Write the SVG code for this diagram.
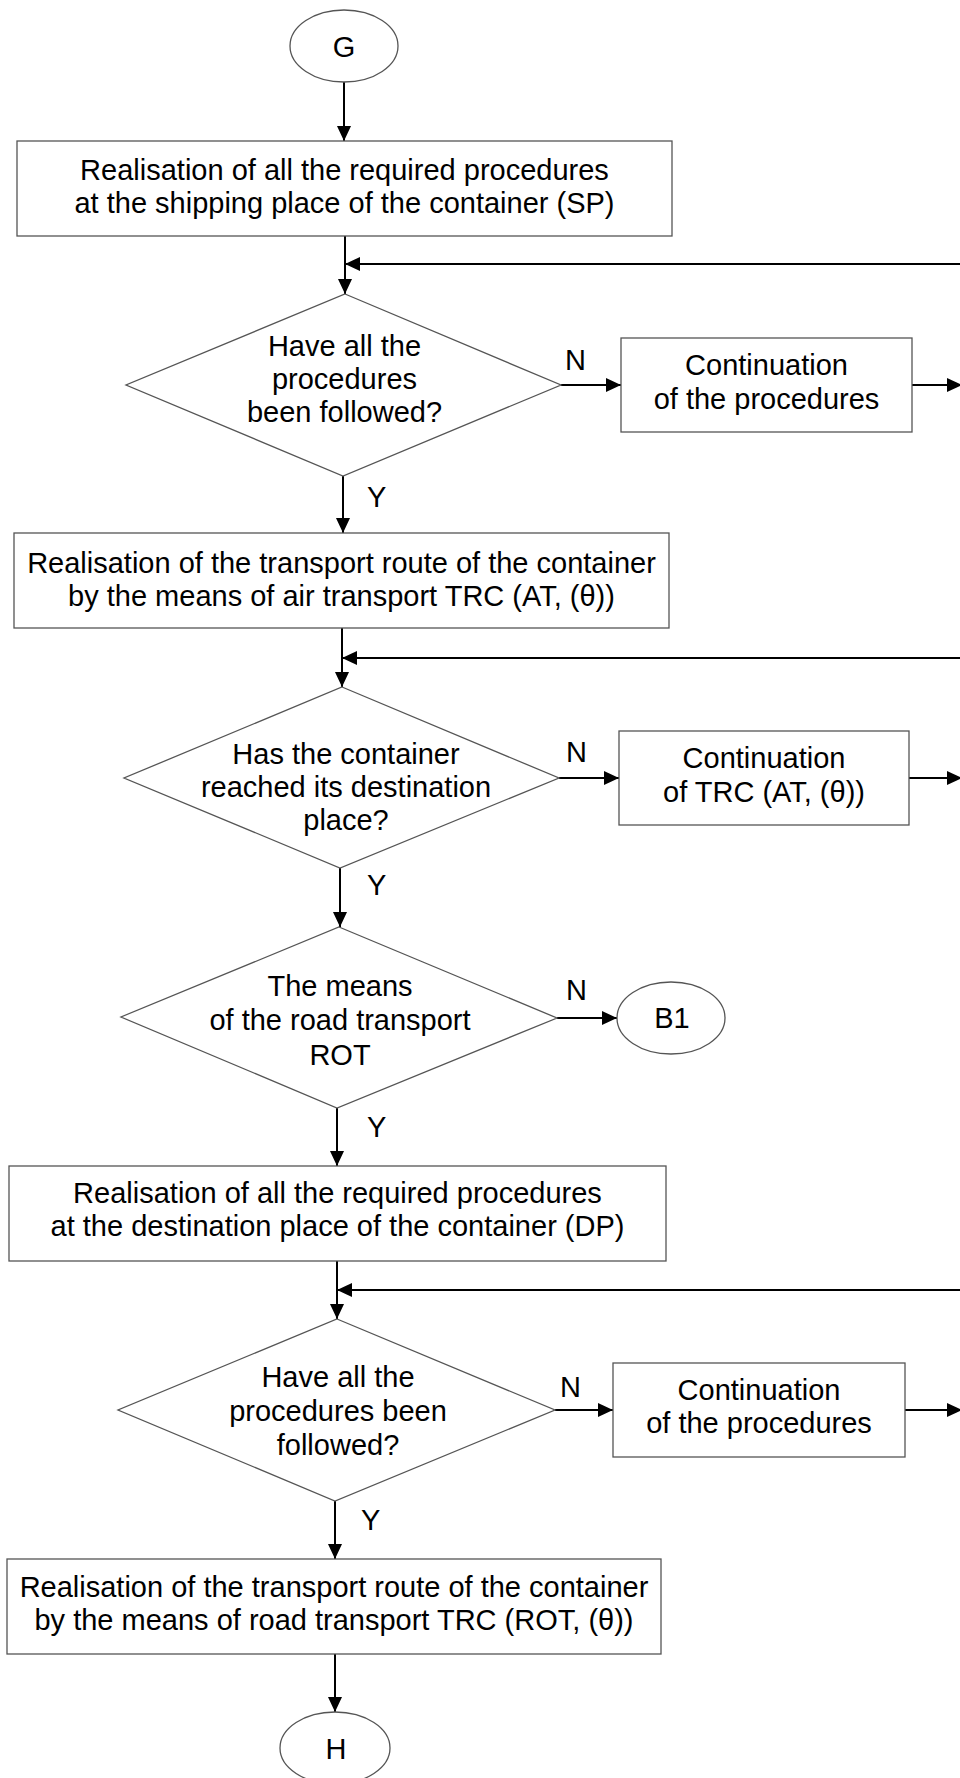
<svg xmlns="http://www.w3.org/2000/svg" width="960" height="1778" viewBox="0 0 960 1778">
<style>
  .shape { fill: #ffffff; stroke: #555555; stroke-width: 1.3; }
  .conn { fill: none; stroke: #000000; stroke-width: 2; }
  text { font-family: "Liberation Sans", Arial, sans-serif; font-size: 29px; fill: #000000; }
  .c { text-anchor: middle; }
  .lbl { text-anchor: start; }
</style>
<defs>
  <marker id="arr" markerUnits="userSpaceOnUse" markerWidth="16" markerHeight="14" refX="15" refY="7" orient="auto">
    <path d="M0,0 L15,7 L0,14 Z" fill="#000000"/>
  </marker>
</defs>
<rect x="0" y="0" width="960" height="1778" fill="#ffffff"/>

<g id="connectors">
  <path class="conn" d="M344,82 V141" marker-end="url(#arr)"/>
  <path class="conn" d="M345,236 V294" marker-end="url(#arr)"/>
  <path class="conn" d="M962,264 H345" marker-end="url(#arr)"/>
  <path class="conn" d="M561,385 H621" marker-end="url(#arr)"/>
  <path class="conn" d="M912,385 H962" marker-end="url(#arr)"/>
  <path class="conn" d="M343,476 V533" marker-end="url(#arr)"/>
  <path class="conn" d="M342,628 V687" marker-end="url(#arr)"/>
  <path class="conn" d="M962,658 H342" marker-end="url(#arr)"/>
  <path class="conn" d="M559,778 H619" marker-end="url(#arr)"/>
  <path class="conn" d="M909,778 H962" marker-end="url(#arr)"/>
  <path class="conn" d="M340,868 V927" marker-end="url(#arr)"/>
  <path class="conn" d="M557,1018 H617" marker-end="url(#arr)"/>
  <path class="conn" d="M337,1108 V1166" marker-end="url(#arr)"/>
  <path class="conn" d="M337,1261 V1319" marker-end="url(#arr)"/>
  <path class="conn" d="M962,1290 H337" marker-end="url(#arr)"/>
  <path class="conn" d="M555,1410 H613" marker-end="url(#arr)"/>
  <path class="conn" d="M905,1410 H962" marker-end="url(#arr)"/>
  <path class="conn" d="M335,1501 V1559" marker-end="url(#arr)"/>
  <path class="conn" d="M335,1654 V1712" marker-end="url(#arr)"/>
  <text class="lbl" x="565" y="370">N</text>
  <text class="lbl" x="367" y="507">Y</text>
  <text class="lbl" x="566" y="762">N</text>
  <text class="lbl" x="367" y="895">Y</text>
  <text class="lbl" x="566" y="1000">N</text>
  <text class="lbl" x="367" y="1137">Y</text>
  <text class="lbl" x="560" y="1397">N</text>
  <text class="lbl" x="361" y="1530">Y</text>
</g>

<g id="G">
  <ellipse class="shape" cx="344" cy="46" rx="54" ry="36"/>
  <text class="c" x="344" y="57">G</text>
</g>

<g id="box1">
  <rect class="shape" x="17" y="141" width="655" height="95"/>
  <text class="c" x="344.5" y="180">Realisation of all the required procedures</text>
  <text class="c" x="344.5" y="213">at the shipping place of the container (SP)</text>
</g>

<g id="d1">
  <polygon class="shape" points="345,294 561,385 343,476 126,385"/>
  <text class="c" x="344.5" y="356">Have all the</text>
  <text class="c" x="344.5" y="389">procedures</text>
  <text class="c" x="344.5" y="422">been followed?</text>
</g>

<g id="c1">
  <rect class="shape" x="621" y="338" width="291" height="94"/>
  <text class="c" x="766.5" y="375">Continuation</text>
  <text class="c" x="766.5" y="409">of the procedures</text>
</g>

<g id="box2">
  <rect class="shape" x="14" y="533" width="655" height="95"/>
  <text class="c" x="341.5" y="573">Realisation of the transport route of the container</text>
  <text class="c" x="341.5" y="606">by the means of air transport TRC (AT, (θ))</text>
</g>

<g id="d2">
  <polygon class="shape" points="342,687 559,778 340,868 124,778"/>
  <text class="c" x="346" y="764">Has the container</text>
  <text class="c" x="346" y="797">reached its destination</text>
  <text class="c" x="346" y="830">place?</text>
</g>

<g id="c2">
  <rect class="shape" x="619" y="731" width="290" height="94"/>
  <text class="c" x="764" y="768">Continuation</text>
  <text class="c" x="764" y="802">of TRC (AT, (θ))</text>
</g>

<g id="d3">
  <polygon class="shape" points="339,927 557,1018 337,1108 121,1017"/>
  <text class="c" x="340" y="996">The means</text>
  <text class="c" x="340" y="1030">of the road transport</text>
  <text class="c" x="340" y="1065">ROT</text>
</g>

<g id="B1">
  <ellipse class="shape" cx="671" cy="1018" rx="54" ry="36"/>
  <text class="c" x="672" y="1028">B1</text>
</g>

<g id="box4">
  <rect class="shape" x="9" y="1166" width="657" height="95"/>
  <text class="c" x="337.5" y="1203">Realisation of all the required procedures</text>
  <text class="c" x="337.5" y="1236">at the destination place of the container (DP)</text>
</g>

<g id="d4">
  <polygon class="shape" points="337,1319 555,1410 335,1501 118,1410"/>
  <text class="c" x="338" y="1387">Have all the</text>
  <text class="c" x="338" y="1421">procedures been</text>
  <text class="c" x="338" y="1455">followed?</text>
</g>

<g id="c4">
  <rect class="shape" x="613" y="1363" width="292" height="94"/>
  <text class="c" x="759" y="1400">Continuation</text>
  <text class="c" x="759" y="1433">of the procedures</text>
</g>

<g id="box5">
  <rect class="shape" x="7" y="1559" width="654" height="95"/>
  <text class="c" x="334" y="1597">Realisation of the transport route of the container</text>
  <text class="c" x="334" y="1630">by the means of road transport TRC (ROT, (θ))</text>
</g>

<g id="H">
  <ellipse class="shape" cx="335" cy="1748" rx="55" ry="36"/>
  <text class="c" x="336" y="1759">H</text>
</g>
</svg>
